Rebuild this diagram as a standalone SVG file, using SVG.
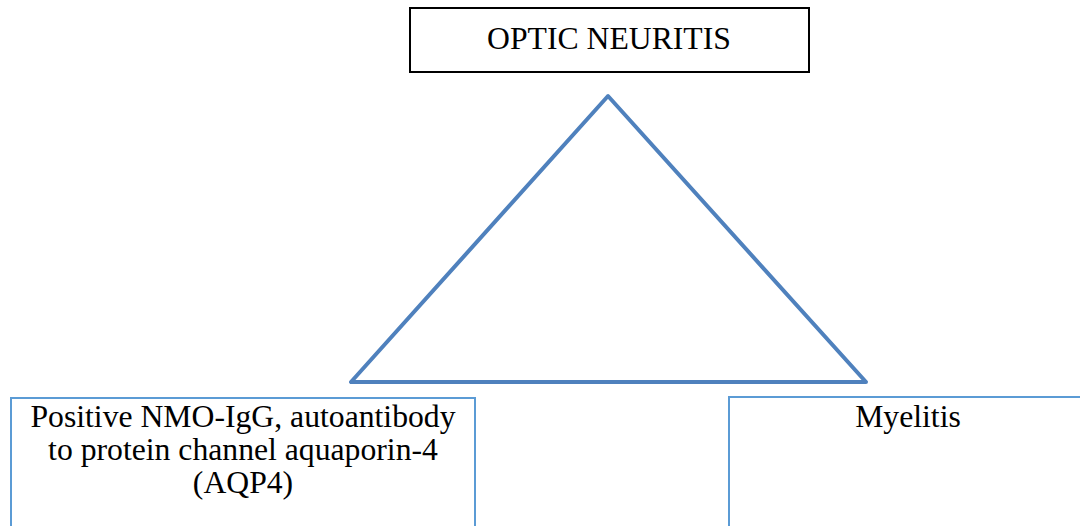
<svg xmlns="http://www.w3.org/2000/svg" width="1080" height="526" viewBox="0 0 1080 526">
<style>
.blue{fill:#fff;stroke:#5B9BD5;stroke-width:2}
text{font-family:"Liberation Serif","Times New Roman",serif;font-size:31.7px;fill:#000;text-anchor:middle}
</style>
<rect width="1080" height="526" fill="#fff"/>
<g id="optic">
<rect x="410" y="8" width="399" height="64" fill="#fff" stroke="#000" stroke-width="2"/>
<text x="609" y="49">OPTIC NEURITIS</text>
</g>
<g id="connectors">
<polygon points="608,96 351,382 866,382" fill="none" stroke="#4F81BD" stroke-width="4" stroke-linejoin="round"/>
</g>
<g id="nmo">
<rect class="blue" x="11" y="398" width="464" height="140"/>
<text x="243" y="427">Positive NMO-IgG, autoantibody</text>
<text x="243" y="460">to protein channel aquaporin-4</text>
<text x="243" y="493">(AQP4)</text>
</g>
<g id="myelitis">
<rect class="blue" x="729" y="397" width="360" height="140"/>
<text x="908" y="427">Myelitis</text>
</g>
</svg>
